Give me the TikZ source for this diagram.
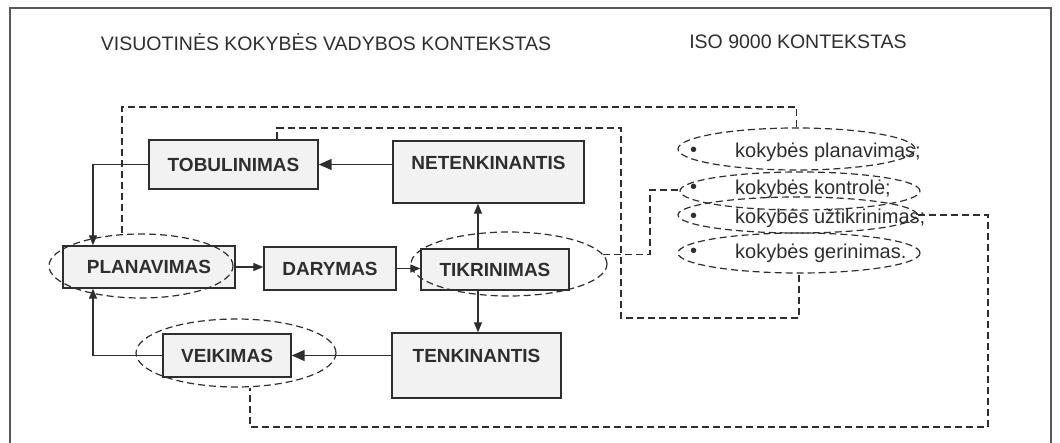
\documentclass[tikz,border=0pt]{standalone}
\usepackage{fontspec}
\setmainfont{Liberation Sans}
\usetikzlibrary{arrows.meta,shapes.geometric,calc}
\definecolor{ink}{HTML}{2E2E2E}
\definecolor{boxfill}{HTML}{F2F2F2}
\begin{document}
\begin{tikzpicture}[x=1pt,y=-1pt,
  box/.style={draw=ink, line width=1.4pt, fill=boxfill, rectangle, inner sep=0pt},
  lbl/.style={font=\fontsize{19}{21}\selectfont\bfseries, text=ink, inner sep=0pt},
  ttl/.style={font=\fontsize{19.5}{21}\selectfont, text=ink, inner sep=0pt},
  iso/.style={font=\fontsize{20}{22}\selectfont, text=ink, inner sep=0pt, anchor=west},
  dell/.style={draw=ink, ellipse, line width=1.2pt, dash pattern=on 7pt off 4pt, inner sep=0pt},
  dline/.style={draw=ink, line width=1.2pt, dash pattern=on 7pt off 4pt},
  arr/.style={draw=ink, line width=1.3pt, -{Triangle[length=10pt,width=8pt]}},
  bigarr/.style={draw=ink, line width=1.6pt, -{Triangle[length=13pt,width=11pt]}}]
\useasboundingbox (0,0) rectangle (1060,443);
% frame
\draw[draw=ink!80, line width=1.5pt] (10,446) -- (10,8) -- (1051,8) -- (1051,446);
% titles
\node[ttl] (t1) at (326,42) {VISUOTINĖS KOKYBĖS VADYBOS KONTEKSTAS};
\node[ttl] (t2) at (798,42) {ISO 9000 KONTEKSTAS};
% boxes
\node[box, minimum width=169, minimum height=49] (tob) at (233.5,164.5) {};
\node[lbl] (tobt) at (tob) {TOBULINIMAS};
\node[box, minimum width=191, minimum height=62] (netb) at (488.5,172) {};
\node[lbl] (nett) at (488.5,163) {NETENKINANTIS};
\node[box, minimum width=172, minimum height=42] (pla) at (149,267) {};
\node[lbl] (plat) at (pla) {PLANAVIMAS};
\node[box, minimum width=132, minimum height=43] (dar) at (330,268.5) {};
\node[lbl] (dart) at (dar) {DARYMAS};
\node[box, minimum width=148, minimum height=41] (tik) at (495,269.5) {};
\node[lbl] (tikt) at (tik) {TIKRINIMAS};
\node[box, minimum width=169, minimum height=65] (tenb) at (476.5,365.5) {};
\node[lbl] (tent) at (476.5,356) {TENKINANTIS};
\node[box, minimum width=128, minimum height=43] (vei) at (227,355.5) {};
\node[lbl] (veit) at (vei) {VEIKIMAS};
% ISO list
\node[iso] (b1) at (690,152) {•};
\node[iso] (i1) at (735,152) {kokybės planavimas;};
\node[iso] (b2) at (690,189) {•};
\node[iso] (i2) at (735,189) {kokybės kontrolė;};
\node[iso] (b3) at (690,218) {•};
\node[iso] (i3) at (735,218) {kokybės užtikrinimas;};
\node[iso] (b4) at (690,253) {•};
\node[iso] (i4) at (735,253) {kokybės gerinimas.};
% ellipses
\node[dell, minimum width=184, minimum height=64] (plae) at (141,266) {};
\node[dell, minimum width=196, minimum height=64] (tike) at (509,264) {};
\node[dell, minimum width=200, minimum height=68] (veie) at (236,353) {};
\node[dell, minimum width=237, minimum height=42] (e1) at (796.5,149) {};
\node[dell, minimum width=240, minimum height=38] (e2) at (800,191) {};
\node[dell, minimum width=239, minimum height=36] (e3) at (797.5,215) {};
\node[dell, minimum width=242, minimum height=40] (e4) at (799,253) {};
% helper coordinates
\coordinate (xl) at (93,0);
\coordinate (xa) at (478,0);
\coordinate (o1) at (122,107);
\coordinate (o2) at (796.5,107);
\coordinate (c1) at (277,128);
\coordinate (c2) at (621,128);
\coordinate (c3) at (621,318);
\coordinate (c4) at (799,318);
\coordinate (k2) at (650,190);
\coordinate (r1) at (988,427);
\coordinate (r2) at (250,427);
% solid arrows
\draw[bigarr] (netb.west |- tob.east) -- (tob.east);
\draw[arr] (tob.west) -- (tob.west -| xl) -- (pla.north -| xl);
\draw[arr] (pla.east) -- (pla.east -| dar.west);
\draw[arr] (dar.east) -- (dar.east -| tik.west);
\draw[arr] (tik.north -| xa) -- (netb.south -| xa);
\draw[arr] (tik.south -| xa) -- (tenb.north -| xa);
\draw[bigarr] (tenb.west |- vei.east) -- (vei.east);
\draw[arr] (vei.west) -- (vei.west -| xl) -- (pla.south -| xl);
% dashed connectors
\draw[dline] (plae.north -| o1) -- (o1) -- (o2) -- (e1.north);
\draw[dline] (tob.north -| c1) -- (c1) -- (c2) -- (c3) -- (c4) -- (e4.south);
\draw[dline] (tike.6) -- (tike.6 -| k2) -- (k2) -- (k2 -| e2.west);
\draw[dline] (e3.east) -- (e3.east -| r1) -- (r1) -- (r2) -- (veie.south -| r2);
\end{tikzpicture}
\end{document}
